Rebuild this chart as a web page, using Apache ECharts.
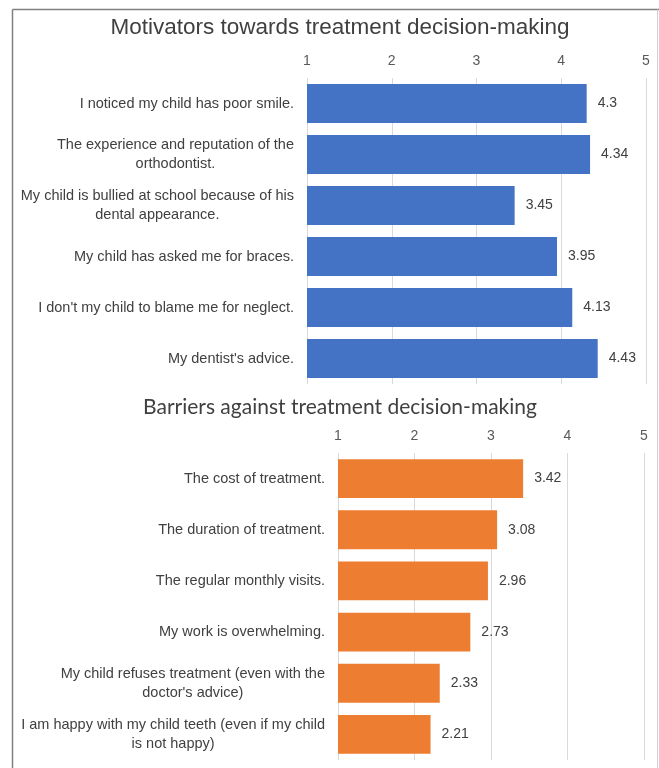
<!DOCTYPE html>
<html><head><meta charset="utf-8">
<script src="https://cdn.jsdelivr.net/npm/echarts@6/dist/echarts.min.js"></script>
<style>html,body{margin:0;padding:0;background:#fff}#c{width:659px;height:768px}</style>
</head><body><div id="c"></div>
<script>
const motivatorCats = [
  "I noticed my child has poor smile.",
  "The experience and reputation of the\northodontist.",
  "My child is bullied at school because of his\ndental appearance.",
  "My child has asked me for braces.",
  "I don't my child to blame me for neglect.",
  "My dentist's advice."
];
const motivatorVals = [4.3, 4.34, 3.45, 3.95, 4.13, 4.43];
const barrierCats = [
  "The cost of treatment.",
  "The duration of treatment.",
  "The regular monthly visits.",
  "My work is overwhelming.",
  "My child refuses treatment (even with the\ndoctor's advice)",
  "I am happy with my child teeth (even if my child\nis not happy)"
];
const barrierVals = [3.42, 3.08, 2.96, 2.73, 2.33, 2.21];
const tickVals = [1, 2, 3, 4, 5];
const titleTop = "Motivators towards treatment decision-making";
const titleBottom = "Barriers against treatment decision-making";

const FONT = "'Liberation Sans', Arial, sans-serif";
const FS = 14.5;
const chart = echarts.init(document.getElementById('c'), null, {renderer: 'canvas'});

function catLabel(v) {
  return v.split('\n').map(s => '{c|' + s + '}').join('\n');
}
function xAx(gi) {
  return {
    type: 'value', gridIndex: gi, position: 'top', min: tickVals[0], max: tickVals[tickVals.length - 1], interval: 1,
    axisLine: {show: false}, axisTick: {show: false},
    splitLine: {show: true, lineStyle: {color: '#d9d9d9', width: 1}},
    axisLabel: {color: '#595959', fontSize: 14, fontFamily: FONT, margin: 10}
  };
}
function yAx(gi, cats) {
  return {
    type: 'category', gridIndex: gi, data: cats, inverse: true,
    axisLine: {show: false}, axisTick: {show: false},
    axisLabel: {
      color: '#404040', fontSize: FS, fontFamily: FONT, margin: 13, align: 'right',
      lineHeight: 19, formatter: catLabel,
      rich: {c: {align: 'center', color: '#404040', fontSize: FS, fontFamily: FONT, lineHeight: 19}}
    }
  };
}
function bar(gi, vals, color) {
  return {
    type: 'bar', xAxisIndex: gi, yAxisIndex: gi, data: vals, barCategoryGap: '24%',
    itemStyle: {color: color},
    label: {show: true, position: 'right', distance: 11, color: '#404040', fontSize: 14, fontFamily: FONT},
    silent: true, animation: false
  };
}

chart.setOption({
  animation: false,
  grid: [
    {left: 307, right: 13, top: 78, height: 306},
    {left: 338, right: 15, top: 453, height: 307}
  ],
  xAxis: [xAx(0), xAx(1)],
  yAxis: [yAx(0, motivatorCats), yAx(1, barrierCats)],
  series: [bar(0, motivatorVals, '#4472C4'), bar(1, barrierVals, '#ED7D31')],
  graphic: [
    {type: 'line', shape: {x1: 12.5, y1: 9.5, x2: 659, y2: 9.5}, style: {stroke: '#808080', lineWidth: 1.5}, silent: true},
    {type: 'line', shape: {x1: 12.5, y1: 9.5, x2: 12.5, y2: 768}, style: {stroke: '#808080', lineWidth: 1.5}, silent: true},
    {type: 'line', shape: {x1: 657.5, y1: 9.5, x2: 657.5, y2: 768}, style: {stroke: '#d0d0d0', lineWidth: 1}, silent: true},
    {type: 'text', x: 340, y: 28, style: {text: titleTop, fill: '#404040', fontSize: 22.5, fontFamily: FONT, align: 'center', verticalAlign: 'middle'}, silent: true},
    {type: 'text', x: 340, y: 407, style: {text: titleBottom, fill: '#404040', fontSize: 21, fontFamily: "Lato, 'Open Sans', sans-serif", align: 'center', verticalAlign: 'middle'}, silent: true}
  ]
});
</script></body></html>
